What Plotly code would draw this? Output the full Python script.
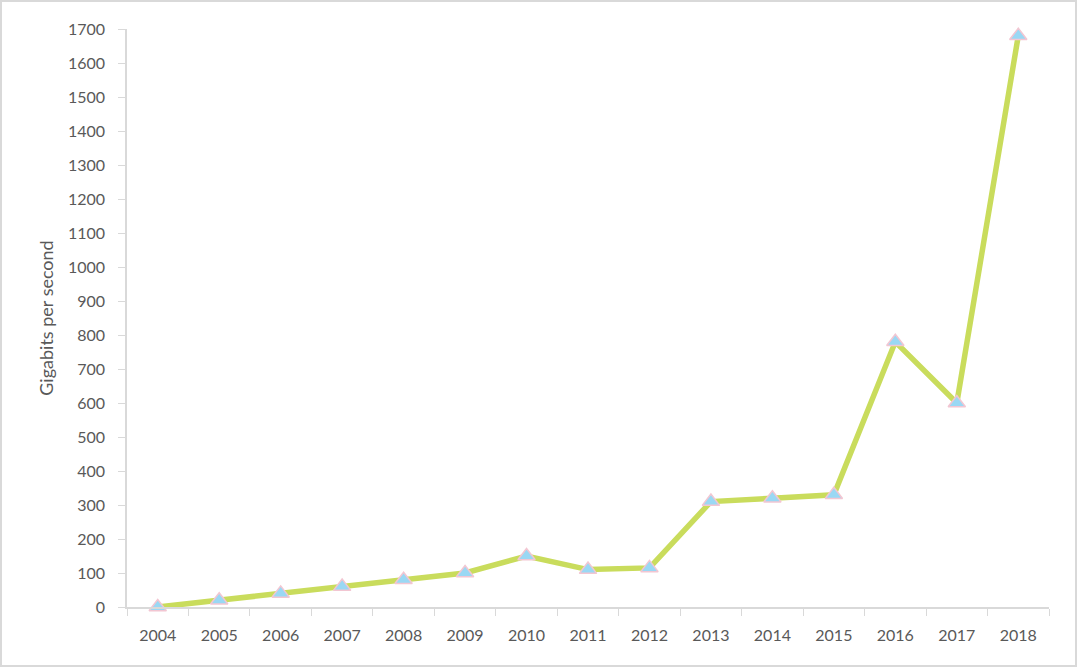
import plotly.graph_objects as go

years = ["2004", "2005", "2006", "2007", "2008", "2009", "2010", "2011",
         "2012", "2013", "2014", "2015", "2016", "2017", "2018"]
gbps = [0, 20, 40, 60, 80, 100, 150, 110, 115, 310, 320, 330, 780, 600, 1680]
y_ticks = list(range(0, 1800, 100))

W, H = 1078, 669
ml, mr, mt, mb = 127, 29, 29, 62
pw, ph = W - ml - mr, H - mt - mb

fig = go.Figure()
fig.add_trace(go.Scatter(
    x=years, y=gbps, mode="lines+markers",
    line=dict(color="#c9dc5c", width=5.5),
    marker=dict(symbol="triangle-up", size=15, color="#9ad8f4",
                line=dict(color="#f2c6d2", width=1.5)),
    cliponaxis=False, showlegend=False,
))

font_family = "Lato, Open Sans, sans-serif"
fig.update_layout(
    width=W, height=H,
    margin=dict(l=ml, r=mr, t=mt, b=mb, autoexpand=False),
    paper_bgcolor="white", plot_bgcolor="white",
    font=dict(family=font_family, color="#595959", size=16),
    xaxis=dict(
        type="category", tickson="boundaries", ticks="outside", ticklen=7,
        tickcolor="#d9d9d9", showline=True, linecolor="#d9d9d9", linewidth=1.5,
        showgrid=False, tickfont=dict(size=16, color="#595959"),
        range=[-0.5, len(years) - 0.5], automargin=False,
        ticklabelstandoff=13,
    ),
    yaxis=dict(
        range=[0, 1700], tickvals=y_ticks, ticks="outside", ticklen=7,
        tickcolor="#d9d9d9", showline=True, linecolor="#d9d9d9", linewidth=1.5,
        showgrid=False, zeroline=False, tickfont=dict(size=16, color="#595959"),
        automargin=False, ticklabelstandoff=10,
        title=dict(text="Gigabits per second", font=dict(size=18, color="#595959"),
                   standoff=10),
    ),
    shapes=[dict(
        type="rect", xref="paper", yref="paper",
        x0=(1 - ml) / pw, x1=(W - 2 - ml) / pw,
        y0=-(mb - 3) / ph, y1=(H - mb - 1) / ph,
        line=dict(color="#d9d9d9", width=2), fillcolor="rgba(0,0,0,0)",
        layer="below",
    )],
)

fig.write_html(
    "out.html",
    config={"displayModeBar": False},
    post_script="document.body.style.margin='0';document.body.style.overflow='hidden';",
)
